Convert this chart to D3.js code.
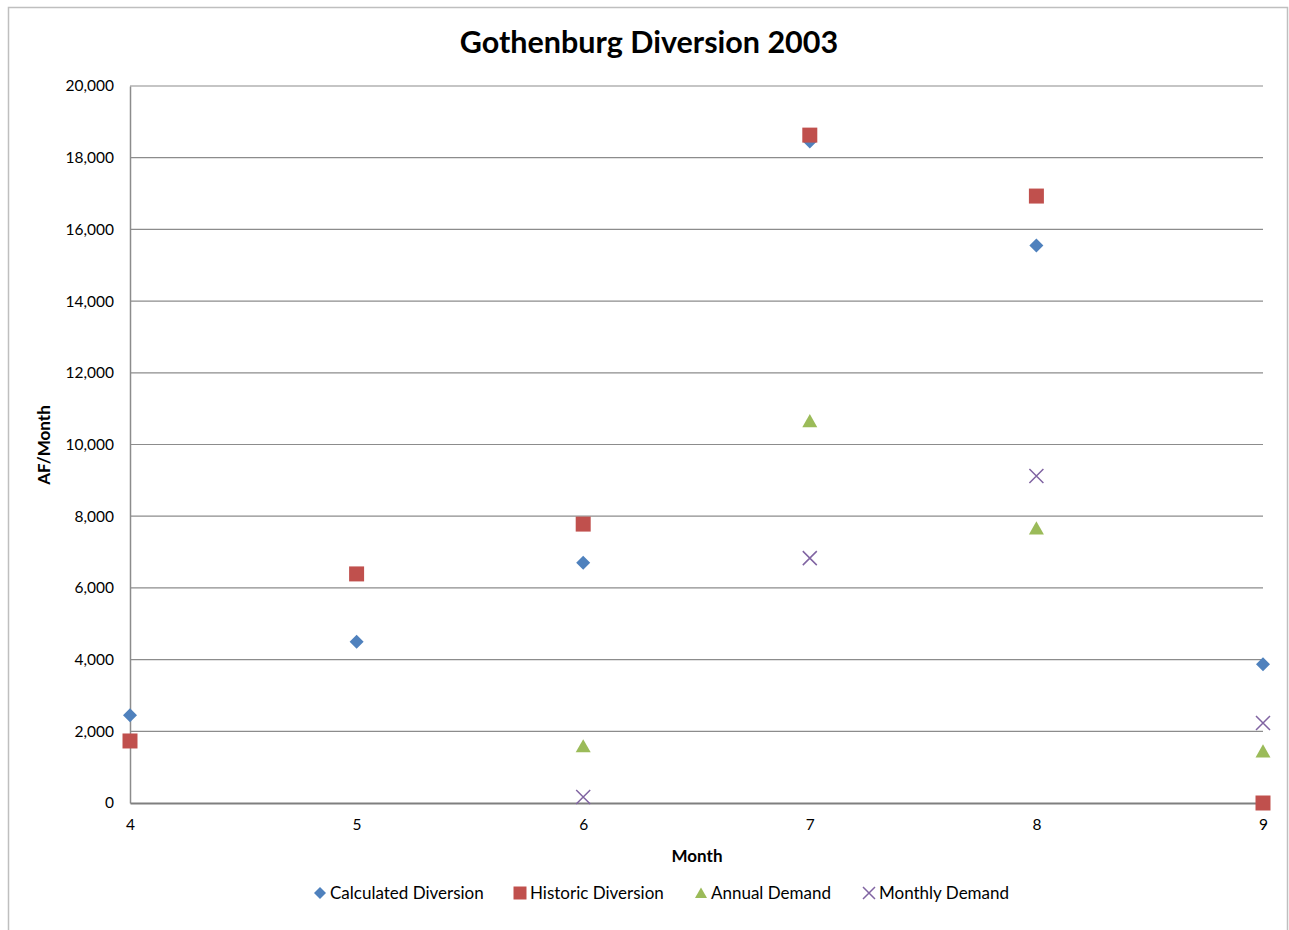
<!DOCTYPE html>
<html>
<head>
<meta charset="utf-8">
<script src="https://cdn.jsdelivr.net/npm/d3@7"></script>
<style>
  body { margin: 0; background: #fff; }
  text { font-family: Lato, "Open Sans", sans-serif; }
</style>
</head>
<body>
<svg id="chart" width="1289" height="930"></svg>
<script>
var months = [4, 5, 6, 7, 8, 9];
var calculatedDiversion = [2450, 4500, 6700, 18450, 15550, 3870];
var historicDiversion = [1730, 6390, 7780, 18630, 16930, 0];
var annualDemand = [null, null, 1590, 10660, 7670, 1450];
var monthlyDemand = [null, null, 170, 6830, 9120, 2230];
var yTicks = [0, 2000, 4000, 6000, 8000, 10000, 12000, 14000, 16000, 18000, 20000];

var seriesList = [
    {name: "Calculated Diversion", values: calculatedDiversion, color: "#4f81bd", shape: "diamond"},
    {name: "Historic Diversion", values: historicDiversion, color: "#c0504d", shape: "square"},
    {name: "Annual Demand", values: annualDemand, color: "#9bbb59", shape: "triangle"},
    {name: "Monthly Demand", values: monthlyDemand, color: "#8064a2", shape: "cross"}
];

var svg = d3.select("#chart");

// outer chart frame
svg.append("rect")
    .attr("x", 8.5).attr("y", 7.5)
    .attr("width", 1279).attr("height", 940)
    .attr("fill", "none")
    .attr("stroke", "#bfbfbf")
    .attr("stroke-width", 1.5);

var plotLeft = 130, plotRight = 1263, plotTop = 86, plotBottom = 803;

var x = d3.scaleLinear().domain([4, 9]).range([plotLeft, plotRight]);
var y = d3.scaleLinear().domain([0, 20000]).range([plotBottom, plotTop]);

// gridlines
svg.append("g")
    .selectAll("line")
    .data(yTicks.filter(function(d) { return d > 0; }))
    .enter().append("line")
    .attr("x1", plotLeft).attr("x2", plotRight)
    .attr("y1", function(d) { return y(d); })
    .attr("y2", function(d) { return y(d); })
    .attr("stroke", "#8c8c8c")
    .attr("stroke-width", 1.2);

// y axis
var yAxis = svg.append("g")
    .attr("transform", "translate(" + plotLeft + ",0)")
    .call(d3.axisLeft(y).tickValues(yTicks).tickSize(0).tickPadding(16)
        .tickFormat(d3.format(",")));
yAxis.select(".domain").attr("stroke", "#8c8c8c").attr("stroke-width", 1.5);
yAxis.selectAll("text").attr("font-size", 15.5).attr("fill", "#000");

// x axis
var xAxis = svg.append("g")
    .attr("transform", "translate(0," + plotBottom + ")")
    .call(d3.axisBottom(x).tickValues(months).tickSize(0).tickPadding(16)
        .tickFormat(d3.format("d")));
xAxis.select(".domain").attr("stroke", "#7f7f7f").attr("stroke-width", 2);
xAxis.selectAll("text").attr("font-size", 15.5).attr("fill", "#000");

// titles
svg.append("text")
    .attr("x", 649).attr("y", 53)
    .attr("text-anchor", "middle")
    .attr("font-size", 30.5).attr("font-weight", "bold")
    .text("Gothenburg Diversion 2003");

svg.append("text")
    .attr("x", 697).attr("y", 862)
    .attr("text-anchor", "middle")
    .attr("font-size", 17).attr("font-weight", "bold")
    .text("Month");

svg.append("text")
    .attr("transform", "translate(50,445) rotate(-90)")
    .attr("text-anchor", "middle")
    .attr("font-size", 17).attr("font-weight", "bold")
    .text("AF/Month");

// marker drawn centred on 0,0; w = overall width in px
function drawMarker(sel, shape, color, w) {
    var h = w / 2, p;
    if (shape === "cross") {
        sel.append("path")
            .attr("d", "M" + (-h) + "," + (-h) + "L" + h + "," + h + "M" + (-h) + "," + h + "L" + h + "," + (-h))
            .attr("stroke", color).attr("stroke-width", 1.5).attr("fill", "none");
        return;
    }
    if (shape === "diamond") p = [[0, -h], [h, 0], [0, h], [-h, 0]];
    else if (shape === "square") p = [[-h, -h], [h, -h], [h, h], [-h, h]];
    else p = [[0, -h * 0.9], [h, h * 0.85], [-h, h * 0.85]];
    sel.append("path")
        .attr("d", d3.line()(p) + "Z")
        .attr("fill", color);
}

var markerWidth = {diamond: 14, square: 15, triangle: 15, cross: 14};

seriesList.forEach(function(s) {
    var pts = months.map(function(m, i) { return {m: m, v: s.values[i]}; })
        .filter(function(d) { return d.v !== null; });
    var g = svg.append("g").attr("class", "series");
    pts.forEach(function(d) {
        var mg = g.append("g")
            .attr("transform", "translate(" + x(d.m) + "," + y(d.v) + ")");
        drawMarker(mg, s.shape, s.color, markerWidth[s.shape]);
    });
});

// legend
var legendX = [320, 520, 701, 869];
var legend = svg.append("g");
seriesList.forEach(function(s, i) {
    var lg = legend.append("g")
        .attr("transform", "translate(" + legendX[i] + ",893)");
    var mg = lg.append("g");
    drawMarker(mg, s.shape, s.color, s.shape === "square" ? 13 : 12);
    lg.append("text")
        .attr("x", 10).attr("y", 5.5)
        .attr("font-size", 17)
        .attr("fill", "#000")
        .text(s.name);
});
</script>
</body>
</html>
